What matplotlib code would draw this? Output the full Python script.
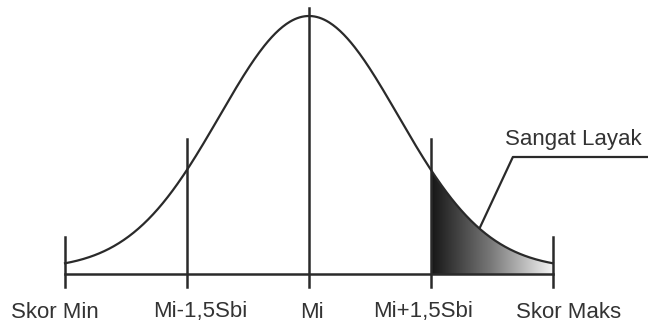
import numpy as np
import matplotlib
matplotlib.use("Agg")
import matplotlib.pyplot as plt
from matplotlib.colors import LinearSegmentedColormap

plt.rcParams['font.family'] = ['Liberation Sans', 'DejaVu Sans']

# positions of the marks, in units of Sbi around Mi
tick_pos = [-3.0, -1.5, 0.0, 1.5, 3.0]
tick_labels = ['Skor Min', 'Mi-1,5Sbi', 'Mi', 'Mi+1,5Sbi', 'Skor Maks']
tick_tops = [37, 135, 266, 135, 37]
label_x = [-3.13, -1.34, 0.04, 1.40, 3.19]

# curve shape (drawing units above the base line)
curve_sd = 1.097
curve_peak = 253.3
curve_lift = 4.7
shade_from, shade_to = 1.5, 3.0
note_text = 'Sangat Layak'

ink = '#2a2a2a'

fig = plt.figure(figsize=(6.48, 3.24), dpi=100)
ax = fig.add_axes([0, 0, 1, 1])
ax.set_xlim(-3.80, 4.17)
ax.set_ylim(-50, 274)
ax.axis('off')

z = np.linspace(tick_pos[0], tick_pos[-1], 400)
y = curve_lift + curve_peak * np.exp(-z**2 / (2 * curve_sd**2))

# shaded region with gradient
zs = np.linspace(shade_from, shade_to, 200)
ys = curve_lift + curve_peak * np.exp(-zs**2 / (2 * curve_sd**2))
poly = ax.fill_between(zs, 0, ys, color='none', lw=0)
cmap = LinearSegmentedColormap.from_list('g', ['#161616', '#7a7a7a', '#f4f4f4'])
grad = np.linspace(0, 1, 256).reshape(1, -1)
im = ax.imshow(grad, cmap=cmap, aspect='auto',
               extent=[shade_from, shade_to, 0, ys.max()], zorder=1)
path = poly.get_paths()[0]
im.set_clip_path(path, transform=ax.transData)

ax.plot(z, y, color=ink, lw=1.6, zorder=3)
ax.plot([tick_pos[0], tick_pos[-1]], [0, 0], color=ink, lw=1.8, zorder=3)
for p, top in zip(tick_pos, tick_tops):
    ax.plot([p, p], [-13, top], color=ink, lw=1.8, zorder=3)

for lx, lab in zip(label_x, tick_labels):
    ax.text(lx, -38, lab, ha='center', va='center', fontsize=16, color='#333333')

# callout
ax.plot([2.10, 2.508, 4.17], [46, 117, 117], color=ink, lw=1.6, zorder=4)
ax.text(2.41, 135, note_text, ha='left', va='center', fontsize=16, color='#333333')

fig.savefig('out.png', dpi=100)
